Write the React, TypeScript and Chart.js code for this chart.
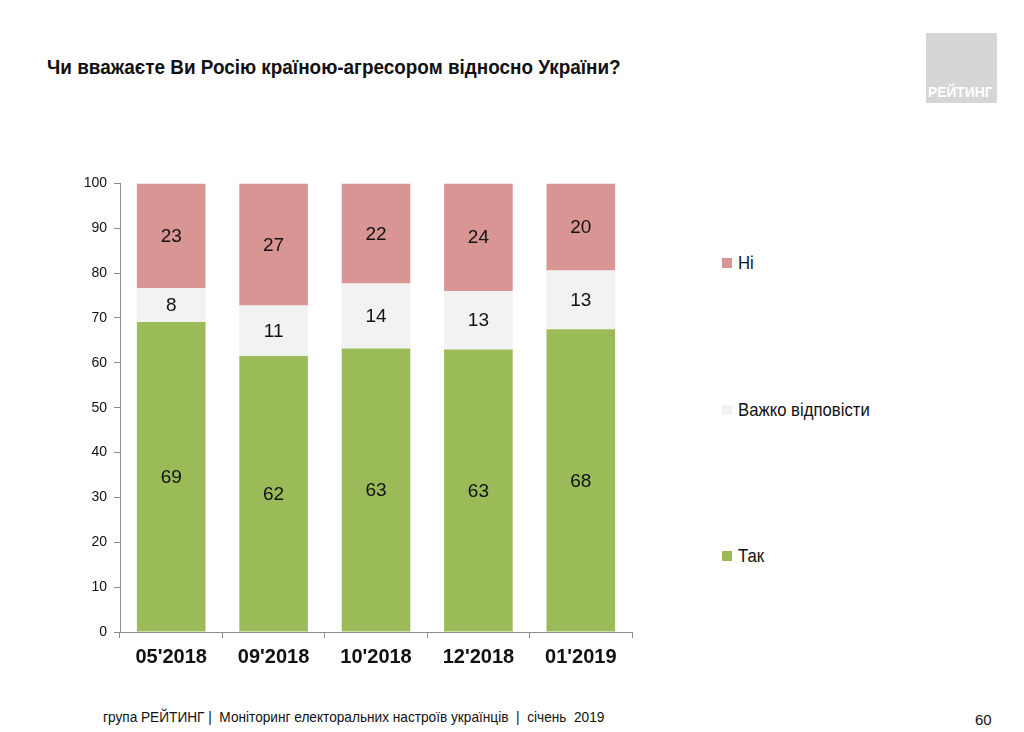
import { useEffect, useRef } from "react";
import { Chart, registerables } from "chart.js";

Chart.register(...registerables);

const FONT = '"Liberation Sans Narrow", "Arial Narrow", "Liberation Sans", Arial, sans-serif';

// survey waves
const waves = ["05'2018", "09'2018", "10'2018", "12'2018", "01'2019"];

// segment sizes
const yesValues = [69.1, 61.5, 63.2, 63.0, 67.5];
const hardValues = [7.6, 11.3, 14.5, 13.0, 13.1];
const noValues = [23.3, 27.2, 22.3, 24.0, 19.4];

// numbers printed inside the bars
const yesLabels = ["69", "62", "63", "63", "68"];
const hardLabels = ["8", "11", "14", "13", "13"];
const noLabels = ["23", "27", "22", "24", "20"];

const yTicks = [0, 10, 20, 30, 40, 50, 60, 70, 80, 90, 100];

const GREEN = "#9bbb59";
const LIGHT = "#f2f2f2";
const PINK = "#d99594";

const legendItems = [
  { label: "Ні", color: PINK, top: 263 },
  { label: "Важко відповісти", color: LIGHT, top: 410 },
  { label: "Так", color: GREEN, top: 556 },
];

// narrow look for the text, since no condensed face is installed
const narrow = (s: number) => ({
  display: "inline-block",
  transform: `scaleX(${s})`,
  transformOrigin: "left center",
});

const barLabels = {
  id: "barLabels",
  afterDatasetsDraw(chart: any) {
    const ctx = chart.ctx;
    ctx.save();
    ctx.font = `19px ${FONT}`;
    ctx.fillStyle = "#111";
    ctx.textAlign = "center";
    ctx.textBaseline = "middle";
    chart.data.datasets.forEach((ds: any, i: number) => {
      const meta = chart.getDatasetMeta(i);
      meta.data.forEach((bar: any, j: number) => {
        const y = (bar.y + bar.base) / 2;
        ctx.fillText(ds.printed[j], bar.x, y + 1);
      });
    });
    ctx.restore();
  },
};

function StackChart() {
  const canvasRef = useRef<HTMLCanvasElement>(null);
  const chartRef = useRef<Chart | null>(null);

  useEffect(() => {
    if (!canvasRef.current) return;
    if (chartRef.current) chartRef.current.destroy();

    chartRef.current = new Chart(canvasRef.current, {
      type: "bar",
      data: {
        labels: waves,
        datasets: [
          { label: "Так", data: yesValues, backgroundColor: GREEN, printed: yesLabels } as any,
          { label: "Важко відповісти", data: hardValues, backgroundColor: LIGHT, printed: hardLabels } as any,
          { label: "Ні", data: noValues, backgroundColor: PINK, printed: noLabels } as any,
        ],
      },
      options: {
        animation: false,
        responsive: false,
        maintainAspectRatio: false,
        layout: { padding: { top: 11, right: 8, left: 0, bottom: 0 } },
        datasets: { bar: { barPercentage: 0.67, categoryPercentage: 1, borderWidth: 0 } },
        plugins: {
          legend: { display: false },
          tooltip: { enabled: false },
          title: { display: false },
        },
        scales: {
          x: {
            stacked: true,
            grid: {
              offset: true,
              drawOnChartArea: false,
              color: "#8c8c8c",
              tickLength: 6,
            },
            border: { color: "#8c8c8c", width: 1 },
            ticks: {
              color: "#111",
              font: { family: FONT, size: 20, weight: "bold" },
              padding: 7,
            },
            afterFit(scale: any) {
              scale.height = 48;
            },
          },
          y: {
            stacked: true,
            min: 0,
            max: 100,
            afterBuildTicks(scale: any) {
              scale.ticks = yTicks.map((v) => ({ value: v }));
            },
            grid: {
              drawOnChartArea: false,
              color: "#8c8c8c",
              tickLength: 6,
            },
            border: { color: "#8c8c8c", width: 1 },
            ticks: {
              color: "#111",
              font: { family: FONT, size: 14 },
              padding: 7,
            },
            afterFit(scale: any) {
              scale.width = 80;
            },
          },
        },
      },
      plugins: [barLabels],
    });

    return () => {
      if (chartRef.current) {
        chartRef.current.destroy();
        chartRef.current = null;
      }
    };
  }, []);

  return (
    <canvas
      ref={canvasRef}
      width={600}
      height={512}
      style={{ position: "absolute", left: 40, top: 168, width: 600, height: 512 }}
    />
  );
}

export default function App() {
  return (
    <div
      style={{
        position: "fixed",
        left: 0,
        top: 0,
        width: 1024,
        height: 732,
        background: "#fff",
        fontFamily: FONT,
        color: "#111",
        overflow: "hidden",
      }}
    >
      <div
        style={{
          position: "absolute",
          left: 47,
          top: 55,
          fontSize: 21,
          fontWeight: "bold",
          whiteSpace: "nowrap",
        }}
      >
        <span style={narrow(0.9)}>Чи вважаєте Ви Росію країною-агресором відносно України?</span>
      </div>

      <div
        style={{
          position: "absolute",
          left: 926,
          top: 33,
          width: 71,
          height: 70,
          background: "#d6d6d6",
        }}
      >
        <div
          style={{
            position: "absolute",
            left: 2,
            bottom: 3,
            color: "#fff",
            fontWeight: "bold",
            fontSize: 15,
            whiteSpace: "nowrap",
          }}
        >
          <span style={narrow(0.92)}>РЕЙТИНГ</span>
        </div>
      </div>

      <StackChart />

      {legendItems.map((item) => (
        <div
          key={item.label}
          style={{
            position: "absolute",
            left: 722,
            top: item.top - 12,
            height: 24,
            display: "flex",
            alignItems: "center",
            fontSize: 19,
            whiteSpace: "nowrap",
          }}
        >
          <span
            style={{
              display: "inline-block",
              width: 10,
              height: 10,
              background: item.color,
              marginRight: 6,
            }}
          />
          <span style={narrow(0.88)}>{item.label}</span>
        </div>
      ))}

      <div
        style={{
          position: "absolute",
          left: 103,
          top: 708,
          fontSize: 15,
          whiteSpace: "pre",
        }}
      >
        <span style={narrow(0.91)}>
          {"група РЕЙТИНГ |  Моніторинг електоральних настроїв українців  |  січень  2019"}
        </span>
      </div>
      <div style={{ position: "absolute", left: 975, top: 711, fontSize: 15 }}>60</div>
    </div>
  );
}
